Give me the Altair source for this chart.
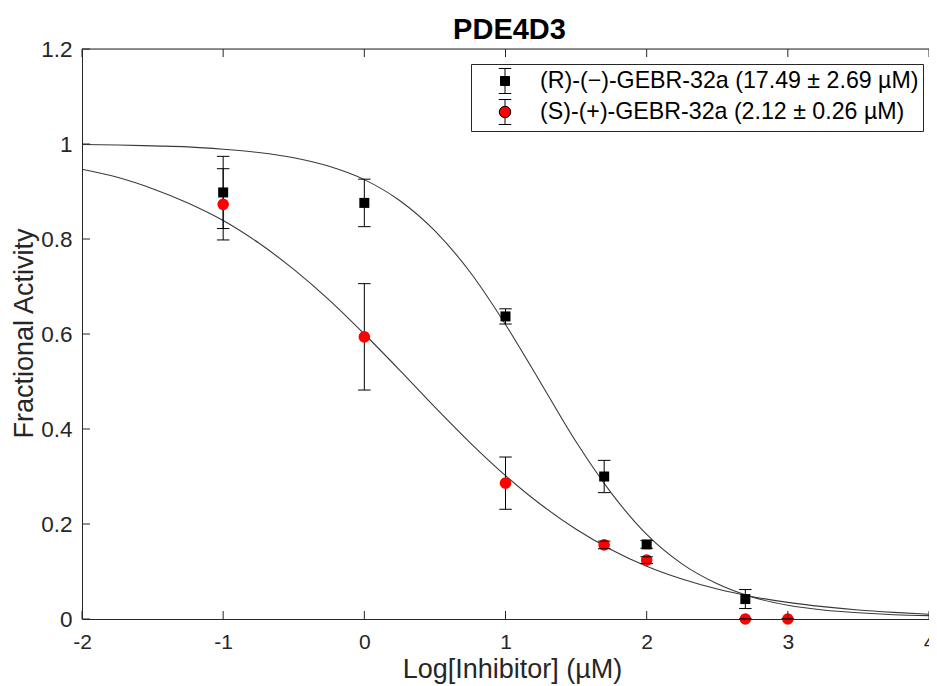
import altair as alt
import pandas as pd

# ---- data ----
r_label = "(R)-(\u2212)-GEBR-32a (17.49 \u00b1 2.69 \u00b5M)"
s_label = "(S)-(+)-GEBR-32a (2.12 \u00b1 0.26 \u00b5M)"

r_x = [-1, 0, 1, 1.699, 2, 2.699]
r_y = [0.898, 0.876, 0.637, 0.300, 0.157, 0.042]
r_err = [0.076, 0.050, 0.016, 0.034, 0.008, 0.020]

s_x = [-1, 0, 1, 1.699, 2, 2.699, 3]
s_y = [0.873, 0.594, 0.286, 0.156, 0.124, 0.0, 0.0]
s_err = [0.075, 0.112, 0.055, 0.008, 0.007, 0.0, 0.0]

fit_x = [-2, -1.75, -1.5, -1.25, -1, -0.75, -0.5, -0.25, 0, 0.25, 0.5, 0.75,
         1, 1.25, 1.5, 1.75, 2, 2.25, 2.5, 2.75, 3, 3.25, 3.5, 3.75, 4]
fit_r = [0.999, 0.998, 0.996, 0.994, 0.989, 0.982, 0.971, 0.953, 0.925, 0.881,
         0.817, 0.730, 0.620, 0.497, 0.373, 0.265, 0.178, 0.116, 0.074, 0.046,
         0.029, 0.019, 0.013, 0.009, 0.007]
fit_s = [0.947, 0.930, 0.906, 0.876, 0.839, 0.792, 0.736, 0.672, 0.600, 0.524,
         0.446, 0.371, 0.302, 0.241, 0.189, 0.146, 0.111, 0.084, 0.063, 0.047,
         0.035, 0.026, 0.019, 0.014, 0.010]

x_ticks = [-2, -1, 0, 1, 2, 3, 4]
y_ticks = [0, 0.2, 0.4, 0.6, 0.8, 1, 1.2]

# ---- tables ----
W, H = 847, 570
FONT = "Liberation Sans"
AX = "#262626"

fit_df = pd.DataFrame({
    "x": fit_x + fit_x,
    "y": fit_r + fit_s,
    "series": ["R"] * len(fit_x) + ["S"] * len(fit_x),
})
r_df = pd.DataFrame({"x": r_x, "y": r_y, "err": r_err})
s_df = pd.DataFrame({"x": s_x, "y": s_y, "err": s_err})
err_df = pd.concat([r_df, s_df], ignore_index=True)
err_df["lo"] = err_df["y"] - err_df["err"]
err_df["hi"] = err_df["y"] + err_df["err"]
caps_df = pd.DataFrame({
    "x": list(err_df["x"]) * 2,
    "y": list(err_df["lo"]) + list(err_df["hi"]),
})
xt_df = pd.DataFrame({"x": x_ticks})
yt_df = pd.DataFrame({"y": y_ticks})
top_df = pd.DataFrame({"y": [y_ticks[-1]]})
legend_df = pd.DataFrame({"series": [r_label, s_label], "x": [10, 10], "y": [0.5, 0.5]})

xs = alt.Scale(domain=[x_ticks[0], x_ticks[-1]], nice=False, zero=False)
ys = alt.Scale(domain=[y_ticks[0], y_ticks[-1]], nice=False, zero=False)

x_axis = alt.Axis(values=x_ticks, labelExpr="toString(datum.value)", ticks=False,
                  grid=False, domainColor=AX, domainWidth=1, labelColor=AX,
                  labelFont=FONT, labelFontSize=21, labelPadding=12,
                  title="Log[Inhibitor] (\u00b5M)", titleFont=FONT, titleFontSize=27,
                  titleFontWeight="normal", titleColor=AX, titleX=430, titleY=58,
                  titleAlign="center", titleBaseline="alphabetic", zindex=1,
                  labelFlush=False, labelOverlap=False)
y_axis = alt.Axis(values=y_ticks, labelExpr="toString(datum.value)", ticks=False,
                  grid=False, domainColor=AX, domainWidth=1, labelColor=AX,
                  labelFont=FONT, labelFontSize=22.5, labelPadding=10,
                  title="Fractional Activity", titleFont=FONT, titleFontSize=27,
                  titleFontWeight="normal", titleColor=AX, titleX=-50, titleY=284,
                  titleAngle=270, titleAlign="center", titleBaseline="alphabetic",
                  zindex=1, labelFlush=False, labelOverlap=False)


def X(field="x"):
    return alt.X(f"{field}:Q", scale=xs, axis=x_axis)


def Y(field="y"):
    return alt.Y(f"{field}:Q", scale=ys, axis=y_axis)


curves = alt.Chart(fit_df).mark_line(color="#3a3a3a", strokeWidth=1.1,
                                     interpolate="monotone").encode(
    x=X(), y=Y(), detail="series:N")

bars = alt.Chart(err_df).mark_rule(color="black", strokeWidth=1).encode(
    x=X(), y=Y("lo"), y2="hi:Q")

r_pts = alt.Chart(r_df).mark_square(size=100, color="black", opacity=1).encode(
    x=X(), y=Y())
s_pts = alt.Chart(s_df).mark_circle(size=135, color="#ff0000", opacity=1).encode(
    x=X(), y=Y())

caps = alt.Chart(caps_df).mark_tick(orient="horizontal", size=12.5, thickness=1,
                                    color="black", opacity=1).encode(x=X(), y=Y())

path_r = ("M0,-1V-0.38M0,0.38V1M-0.5,-1H0.5M-0.5,1H0.5"
          "M-0.36,-0.36H0.36V0.36H-0.36Z")
path_s = ("M0,-1V-0.48M0,0.48V1M-0.5,-1H0.5M-0.5,1H0.5"
          "M-0.46,0A0.46,0.46,0,1,1,0.46,0A0.46,0.46,0,1,1,-0.46,0Z")

leg = alt.Legend(title=None, orient="none", legendX=389, legendY=15,
                 direction="vertical", padding=4, rowPadding=1,
                 symbolSize=625, symbolOffset=17, labelOffset=22,
                 strokeColor=AX, fillColor="white", symbolStrokeColor="black",
                 symbolStrokeWidth=1, labelFont=FONT, labelFontSize=23.2,
                 labelColor="black", labelLimit=2000)

legend_layer = alt.Chart(legend_df).mark_point(filled=True, clip=True, opacity=1,
                                               stroke="black", strokeWidth=1).encode(
    x=X(), y=Y(),
    color=alt.Color("series:N", scale=alt.Scale(domain=[r_label, s_label],
                                                range=["black", "#ff0000"]), legend=leg),
    shape=alt.Shape("series:N", scale=alt.Scale(domain=[r_label, s_label],
                                                range=[path_r, path_s]), legend=leg),
)

tick_bottom = alt.Chart(xt_df).mark_rule(color=AX, strokeWidth=1).encode(
    x=X(), y=alt.value(H), y2=alt.value(H - 8))
tick_top = alt.Chart(xt_df).mark_rule(color=AX, strokeWidth=1).encode(
    x=X(), y=alt.value(0), y2=alt.value(8))
tick_left = alt.Chart(yt_df).mark_rule(color=AX, strokeWidth=1).encode(
    y=Y(), x=alt.value(0), x2=alt.value(8))
top_border = alt.Chart(top_df).mark_rule(color=AX, strokeWidth=1).encode(
    y=Y(), x=alt.value(0), x2=alt.value(W))

chart = alt.layer(
    curves, bars, r_pts, s_pts, caps, legend_layer,
    tick_bottom, tick_top, tick_left, top_border,
).properties(
    width=W, height=H,
    title=alt.TitleParams("PDE4D3", font=FONT, fontSize=29, fontWeight="bold",
                          color="black", anchor="middle", frame="group",
                          offset=-30, baseline="alphabetic", dx=4),
    padding={"left": 74, "top": 41, "right": 0, "bottom": 67},
    autosize=alt.AutoSizeParams(type="none"),
).configure_view(stroke=None).configure(background="white")

chart.save("out.html", embed_options={"renderer": "svg", "actions": False})
